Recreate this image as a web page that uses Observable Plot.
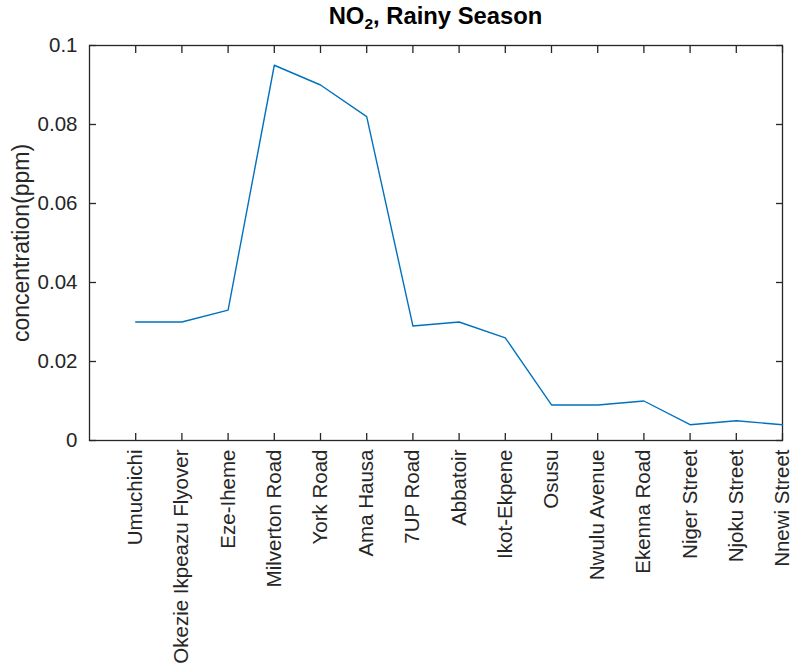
<!DOCTYPE html>
<html><head><meta charset="utf-8">
<script src="https://cdn.jsdelivr.net/npm/d3@7"></script>
<script src="https://cdn.jsdelivr.net/npm/@observablehq/plot@0.6"></script>
<style>
body{margin:0;background:#fff;}
#wrap{position:relative;width:793px;height:670px;font-family:"Liberation Sans",Arial,Helvetica,sans-serif;}
#title{position:absolute;left:0;top:4px;width:871px;text-align:center;font-weight:bold;font-size:23.8px;line-height:23px;color:#000;}
#title sub{font-size:15.5px;vertical-align:-5px;line-height:0;}
</style>
</head><body>
<div id="wrap"><div id="title">NO<sub>2</sub>, Rainy Season</div></div>
<script>
const sites = ["Umuchichi","Okezie Ikpeazu Flyover","Eze-Iheme","Milverton Road","York Road","Ama Hausa","7UP Road","Abbatoir","Ikot-Ekpene","Osusu","Nwulu Avenue","Ekenna Road","Niger Street","Njoku Street","Nnewi Street"];
const no2 = [0.030,0.030,0.033,0.095,0.090,0.082,0.029,0.030,0.026,0.009,0.009,0.010,0.004,0.005,0.004];
const yTicks = [0,0.02,0.04,0.06,0.08,0.1];
const yTickLabels = ["0","0.02","0.04","0.06","0.08","0.1"];
const yLabel = "concentration(ppm)";

const idx = sites.map((s,i)=>i+1);
const rows = sites.map((s,i)=>({site:s, idx:i+1, value:no2[i]}));
const ink = "#262626";

const chart = Plot.plot({
  width:793, height:670,
  marginLeft:89, marginRight:11, marginTop:45, marginBottom:230,
  x:{type:"linear", domain:[0,sites.length]},
  y:{domain:[0,0.1]},
  style:{fontFamily:'"Liberation Sans",Arial,Helvetica,sans-serif', fontSize:"20.5px", color:ink, background:"white", overflow:"visible"},
  marks:[
    Plot.frame({stroke:ink, strokeWidth:1.3}),
    Plot.axisX(idx, {anchor:"bottom", tickSize:0, tickPadding:9, tickRotate:-90, tickFormat:d=>sites[d-1], label:null, fill:ink}),
    Plot.axisX(idx, {anchor:"bottom", tickSize:-7, tickFormat:()=>"", label:null, stroke:ink, strokeWidth:1.3}),
    Plot.axisX(idx, {anchor:"top", tickSize:-7, tickFormat:()=>"", label:null, stroke:ink, strokeWidth:1.3}),
    Plot.axisY(yTicks, {anchor:"left", tickSize:0, tickPadding:12, tickFormat:d=>yTickLabels[yTicks.indexOf(d)], label:null, fill:ink}),
    Plot.axisY(yTicks, {anchor:"left", tickSize:-7, tickFormat:()=>"", label:null, stroke:ink, strokeWidth:1.3}),
    Plot.axisY(yTicks, {anchor:"right", tickSize:-7, tickFormat:()=>"", label:null, stroke:ink, strokeWidth:1.3}),
    Plot.lineY(rows, {x:"idx", y:"value", stroke:"#0072BD", strokeWidth:1.4}),
    Plot.text([yLabel], {text:d=>d, frameAnchor:"left", textAnchor:"middle", rotate:-90, dx:-68, fontSize:23, fill:ink})
  ]
});
document.getElementById("wrap").appendChild(chart);
</script>
</body></html>
